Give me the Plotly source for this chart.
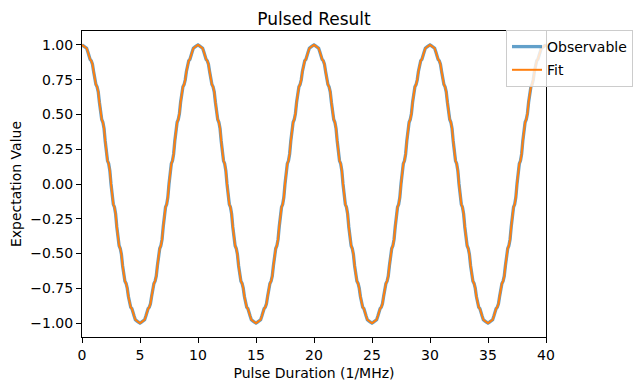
import numpy as np
import plotly.graph_objects as go

# Pulse durations (1/MHz), sampled every 0.1 from 0 to 40
pulse_duration = np.linspace(0, 40, 401)

observable = [
    1.000, 0.995, 0.989, 0.986, 0.976, 0.951, 0.917, 0.896, 0.886, 0.862,
    0.809, 0.749, 0.715, 0.699, 0.663, 0.588, 0.507, 0.464, 0.444, 0.399,
    0.309, 0.216, 0.167, 0.146, 0.096, 0.000, -0.096, -0.146, -0.167, -0.216,
    -0.309, -0.399, -0.444, -0.464, -0.507, -0.588, -0.663, -0.699, -0.715, -0.749,
    -0.809, -0.862, -0.886, -0.896, -0.917, -0.951, -0.976, -0.986, -0.989, -0.995,
    -1.000, -0.995, -0.989, -0.986, -0.976, -0.951, -0.917, -0.896, -0.886, -0.862,
    -0.809, -0.749, -0.715, -0.699, -0.663, -0.588, -0.507, -0.464, -0.444, -0.399,
    -0.309, -0.216, -0.167, -0.146, -0.096, 0.000, 0.096, 0.146, 0.167, 0.216,
    0.309, 0.399, 0.444, 0.464, 0.507, 0.588, 0.663, 0.699, 0.715, 0.749,
    0.809, 0.862, 0.886, 0.896, 0.917, 0.951, 0.976, 0.986, 0.989, 0.995,
    1.000, 0.995, 0.989, 0.986, 0.976, 0.951, 0.917, 0.896, 0.886, 0.862,
    0.809, 0.749, 0.715, 0.699, 0.663, 0.588, 0.507, 0.464, 0.444, 0.399,
    0.309, 0.216, 0.167, 0.146, 0.096, 0.000, -0.096, -0.146, -0.167, -0.216,
    -0.309, -0.399, -0.444, -0.464, -0.507, -0.588, -0.663, -0.699, -0.715, -0.749,
    -0.809, -0.862, -0.886, -0.896, -0.917, -0.951, -0.976, -0.986, -0.989, -0.995,
    -1.000, -0.995, -0.989, -0.986, -0.976, -0.951, -0.917, -0.896, -0.886, -0.862,
    -0.809, -0.749, -0.715, -0.699, -0.663, -0.588, -0.507, -0.464, -0.444, -0.399,
    -0.309, -0.216, -0.167, -0.146, -0.096, 0.000, 0.096, 0.146, 0.167, 0.216,
    0.309, 0.399, 0.444, 0.464, 0.507, 0.588, 0.663, 0.699, 0.715, 0.749,
    0.809, 0.862, 0.886, 0.896, 0.917, 0.951, 0.976, 0.986, 0.989, 0.995,
    1.000, 0.995, 0.989, 0.986, 0.976, 0.951, 0.917, 0.896, 0.886, 0.862,
    0.809, 0.749, 0.715, 0.699, 0.663, 0.588, 0.507, 0.464, 0.444, 0.399,
    0.309, 0.216, 0.167, 0.146, 0.096, 0.000, -0.096, -0.146, -0.167, -0.216,
    -0.309, -0.399, -0.444, -0.464, -0.507, -0.588, -0.663, -0.699, -0.715, -0.749,
    -0.809, -0.862, -0.886, -0.896, -0.917, -0.951, -0.976, -0.986, -0.989, -0.995,
    -1.000, -0.995, -0.989, -0.986, -0.976, -0.951, -0.917, -0.896, -0.886, -0.862,
    -0.809, -0.749, -0.715, -0.699, -0.663, -0.588, -0.507, -0.464, -0.444, -0.399,
    -0.309, -0.216, -0.167, -0.146, -0.096, 0.000, 0.096, 0.146, 0.167, 0.216,
    0.309, 0.399, 0.444, 0.464, 0.507, 0.588, 0.663, 0.699, 0.715, 0.749,
    0.809, 0.862, 0.886, 0.896, 0.917, 0.951, 0.976, 0.986, 0.989, 0.995,
    1.000, 0.995, 0.989, 0.986, 0.976, 0.951, 0.917, 0.896, 0.886, 0.862,
    0.809, 0.749, 0.715, 0.699, 0.663, 0.588, 0.507, 0.464, 0.444, 0.399,
    0.309, 0.216, 0.167, 0.146, 0.096, 0.000, -0.096, -0.146, -0.167, -0.216,
    -0.309, -0.399, -0.444, -0.464, -0.507, -0.588, -0.663, -0.699, -0.715, -0.749,
    -0.809, -0.862, -0.886, -0.896, -0.917, -0.951, -0.976, -0.986, -0.989, -0.995,
    -1.000, -0.995, -0.989, -0.986, -0.976, -0.951, -0.917, -0.896, -0.886, -0.862,
    -0.809, -0.749, -0.715, -0.699, -0.663, -0.588, -0.507, -0.464, -0.444, -0.399,
    -0.309, -0.216, -0.167, -0.146, -0.096, 0.000, 0.096, 0.146, 0.167, 0.216,
    0.309, 0.399, 0.444, 0.464, 0.507, 0.588, 0.663, 0.699, 0.715, 0.749,
    0.809, 0.862, 0.886, 0.896, 0.917, 0.951, 0.976, 0.986, 0.989, 0.995,
    1.000,
]

# The fitted curve is indistinguishable from the measured one in the chart
fit = list(observable)

x_ticks = [0, 5, 10, 15, 20, 25, 30, 35, 40]
y_ticks = [-1.0, -0.75, -0.5, -0.25, 0.0, 0.25, 0.5, 0.75, 1.0]

FONT = "DejaVu Sans"

# The page body adds an 8 px offset; plot area is placed accordingly.
W, H = 642, 391
ML, MT = 74, 23
PW, PH = 464, 306

fig = go.Figure()
fig.add_trace(go.Scatter(
    x=pulse_duration, y=observable, mode="lines", name="Observable",
    legendgroup="obs",
    line=dict(color="#1f77b4", width=3.3), opacity=0.7,
))
fig.add_trace(go.Scatter(
    x=pulse_duration, y=fit, mode="lines", name="Fit",
    legendgroup="fit",
    line=dict(color="#ff7f0e", width=2.0),
))

axis_common = dict(
    showgrid=False, zeroline=False, showline=True, linecolor="black",
    linewidth=1, mirror=True, ticks="outside", ticklen=5, tickwidth=1,
    tickcolor="black", tickfont=dict(family=FONT, size=14, color="black"),
    automargin=False,
)

fig.update_layout(
    width=W, height=H, autosize=False,
    margin=dict(l=ML, r=W - ML - PW, t=MT, b=H - MT - PH, pad=0),
    paper_bgcolor="white", plot_bgcolor="white",
    font=dict(family=FONT, size=14, color="black"),
    title=dict(text="Pulsed Result", x=(ML + PW / 2) / W, xanchor="center",
               xref="container", yref="container",
               y=1 - 11 / H, yanchor="middle",
               font=dict(family=FONT, size=17, color="black")),
    xaxis=dict(range=[0, 40], tickvals=x_ticks,
               title=dict(text="Pulse Duration (1/MHz)", standoff=6,
                          font=dict(family=FONT, size=14)),
               **axis_common),
    yaxis=dict(range=[-1.1, 1.1], tickvals=y_ticks, tickformat=".2f",
               title=dict(text="Expectation Value", standoff=8,
                          font=dict(family=FONT, size=14)),
               **axis_common),
    legend=dict(x=1.1875, y=1 + 1 / PH, xanchor="right", yanchor="top",
                bgcolor="rgba(255,255,255,0.8)", bordercolor="#cccccc",
                borderwidth=1, font=dict(family=FONT, size=14),
                tracegroupgap=2),
    showlegend=True,
)

fig.write_html("out.html")
